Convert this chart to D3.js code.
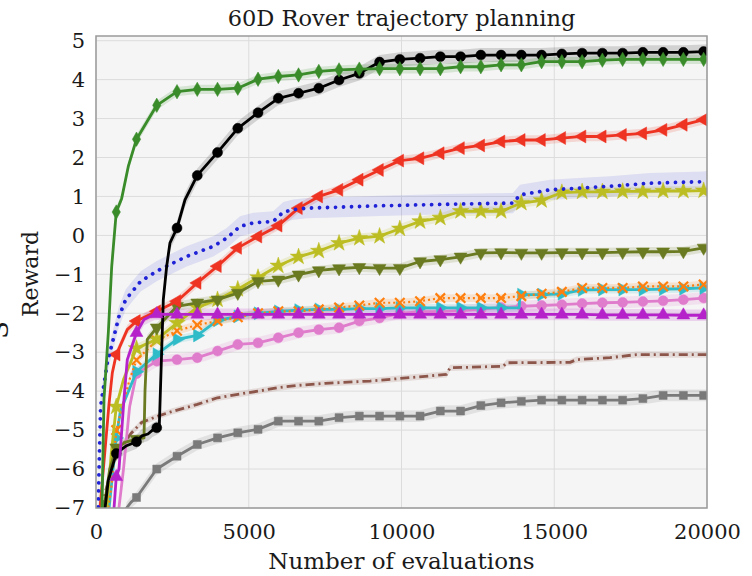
<!DOCTYPE html>
<html><head><meta charset="utf-8">
<script src="https://cdn.jsdelivr.net/npm/d3@7"></script>
<style>
body{margin:0;background:#fff;}
svg{display:block;}
text{font-family:"DejaVu Serif",serif;fill:#1a1a1a;}
</style>
</head><body>
<svg id="chart" width="752" height="576"></svg>
<script>
// ---------------- data ----------------
const title = "60D Rover trajectory planning";
const xLabel = "Number of evaluations";
const yLabel = "Reward";
const xTicks = [0, 5000, 10000, 15000, 20000];
const yTicks = [-7, -6, -5, -4, -3, -2, -1, 0, 1, 2, 3, 4, 5];
const markerEvals = [663, 1326, 1989, 2652, 3315, 3978, 4641, 5304, 5967, 6630,
  7293, 7956, 8619, 9282, 9945, 10608, 11271, 11934, 12597, 13260,
  13923, 14586, 15249, 15912, 16575, 17238, 17901, 18564, 19227, 19890];

const greenVals = [0.6, 2.47, 3.34, 3.69, 3.75, 3.75, 3.78, 4.01, 4.08, 4.12, 4.21, 4.25, 4.27, 4.28, 4.28,
  4.28, 4.28, 4.33, 4.33, 4.38, 4.38, 4.46, 4.46, 4.46, 4.5, 4.52, 4.52, 4.52, 4.52, 4.52];
const greenExtra = [[100, -9], [196, -7], [262, -4.2], [403, -2.5], [514, -0.8], [841, 0.95], [1057, 1.77], [20000, 4.53]];

const blackVals = [-5.6, -5.3, -4.94, 0.19, 1.54, 2.13, 2.75, 3.15, 3.52, 3.65, 3.78, 3.99, 4.16, 4.45, 4.52,
  4.55, 4.59, 4.59, 4.63, 4.63, 4.63, 4.63, 4.66, 4.68, 4.68, 4.68, 4.7, 4.7, 4.7, 4.72];
const blackExtra = [[150, -8], [400, -6.3], [1000, -5.4], [1500, -5.15], [1700, -5.1], [1850, -5.0], [2072, -4.9],
  [2100, -4.2], [2203, -1.65], [2314, -0.79], [2422, -0.19], [2913, 0.91], [20000, 4.73]];

const redVals = [-3.06, -2.2, -1.95, -1.69, -1.22, -0.79, -0.32, -0.03, 0.25, 0.7, 1.0, 1.17, 1.43, 1.68, 1.92,
  1.98, 2.11, 2.24, 2.31, 2.41, 2.45, 2.45, 2.5, 2.54, 2.54, 2.58, 2.62, 2.71, 2.84, 2.97];
const redExtra = [[60, -8], [130, -7], [425, -4.34], [534, -3.53], [1024, -2.42], [20000, 3.0]];

const blueVals = [];
const blueExtra = [[40, -8], [100, -6], [150, -4.4], [206, -4.1], [370, -3.27], [589, -2.59], [753, -2.08],
  [972, -1.65], [1188, -1.44], [1463, -1.18], [1987, -0.92], [2314, -0.79], [2969, -0.54], [3404, -0.41],
  [3839, -0.28], [4278, -0.07], [4713, 0.23], [5148, 0.32], [5803, 0.36], [6130, 0.6], [6458, 0.66],
  [6897, 0.7], [7767, 0.72], [9295, 0.76], [11500, 0.8], [13648, 0.83], [13877, 1.04], [14860, 1.17],
  [15940, 1.22], [16824, 1.26], [18133, 1.34], [19902, 1.38], [20000, 1.4]];

const yellowVals = [-4.4, -2.9, -2.67, -2.25, -1.85, -1.65, -1.38, -1.08, -0.78, -0.55, -0.4, -0.2, -0.07, -0.02, 0.17,
  0.36, 0.45, 0.62, 0.62, 0.62, 0.83, 0.9, 1.1, 1.12, 1.12, 1.13, 1.13, 1.14, 1.14, 1.15];
const yellowExtra = [[330, -7.2], [500, -5.6], [900, -3.7], [1130, -3.27], [20000, 1.16]];

const oliveVals = [-5.45, -5.23, -2.37, -1.82, -1.73, -1.65, -1.48, -1.18, -1.14, -1.01, -0.9, -0.85, -0.82, -0.84, -0.84,
  -0.67, -0.62, -0.55, -0.45, -0.44, -0.45, -0.45, -0.44, -0.44, -0.44, -0.43, -0.42, -0.42, -0.41, -0.32];
const oliveExtra = [[150, -8], [262, -7], [450, -6], [1000, -5.3], [1571, -5.2], [1604, -4.0], [1679, -2.67], [20000, -0.3]];

const orangeVals = [-5.0, -3.2, -2.7, -2.45, -2.3, -2.2, -2.1, -2.0, -1.95, -1.95, -1.9, -1.85, -1.8, -1.73, -1.73,
  -1.69, -1.61, -1.61, -1.61, -1.61, -1.56, -1.5, -1.45, -1.35, -1.35, -1.35, -1.31, -1.31, -1.31, -1.26];
const orangeExtra = [[200, -8], [500, -6.5], [1100, -3.7], [20000, -1.26]];

const cyanVals = [-5.2, -3.5, -3.05, -2.67, -2.57, -2.18, -2.08, -2.0, -1.95, -1.92, -1.9, -1.9, -1.88, -1.88, -1.86,
  -1.86, -1.86, -1.86, -1.86, -1.86, -1.52, -1.52, -1.5, -1.4, -1.39, -1.39, -1.39, -1.38, -1.37, -1.35];
const cyanExtra = [[300, -8], [800, -4.5], [13850, -1.86], [13880, -1.52], [20000, -1.35]];

const pinkVals = [null, -3.55, -3.23, -3.19, -3.14, -2.97, -2.8, -2.76, -2.63, -2.5, -2.42, -2.37, -2.2, -2.12, -2.0,
  -1.96, -1.96, -1.93, -1.9, -1.85, -1.82, -1.8, -1.78, -1.75, -1.73, -1.72, -1.7, -1.68, -1.65, -1.61];
const pinkExtra = [[600, -8], [900, -6], [1100, -4.4], [20000, -1.6]];

const magentaVals = [-6.2, -2.5, -2.02, -2.03, -2.03, -2.03, -2.03, -2.03, -2.03, -2.03, -2.03, -2.03, -2.03, -2.03, -2.03,
  -2.03, -2.03, -2.03, -2.03, -2.03, -2.03, -2.03, -2.03, -2.03, -2.04, -2.04, -2.04, -2.04, -2.05, -2.05];
const magentaExtra = [[500, -8], [590, -7], [753, -6.0], [916, -4.2], [1024, -3.19], [1572, -2.16], [1898, -2.03], [20000, -2.05]];

const brownVals = [];
const brownExtra = [[100, -8], [300, -6.6], [600, -5.8], [900, -5.35], [1150, -5.08], [1500, -4.8], [2100, -4.62],
  [2500, -4.52], [3315, -4.34], [3978, -4.17], [4641, -4.08], [5304, -4.0], [5967, -3.91], [6630, -3.85],
  [7500, -3.8], [8969, -3.74], [11480, -3.57], [11588, -3.4], [13334, -3.36], [13445, -3.27], [15517, -3.26],
  [15737, -3.19], [16824, -3.14], [17698, -3.06], [20000, -3.06]];

const greyVals = [null, -6.73, -6.0, -5.67, -5.37, -5.2, -5.07, -4.98, -4.77, -4.77, -4.77, -4.68, -4.64, -4.64, -4.64,
  -4.64, -4.51, -4.51, -4.37, -4.30, -4.26, -4.23, -4.23, -4.23, -4.23, -4.23, -4.19, -4.11, -4.11, -4.11];
const greyExtra = [[900, -8], [1000, -7], [1150, -6.85], [20000, -4.11]];

// band half-widths (uncertainty)
const bandHalf = {green: 0.12, black: 0.18, red: 0.12, blue: 0.26, yellow: 0.12, olive: 0.12, orange: 0.1,
  cyan: 0.1, pink: 0.15, magenta: 0.15, brown: 0.08, grey: 0.15};

// ---------------- styles (draw order) ----------------
const styles = [
  {key: "brown", vals: brownVals, extra: brownExtra, color: "#8c564b", marker: null, dash: "9,4,2,4", w: 2.8, op: 0.16},
  {key: "grey", vals: greyVals, extra: greyExtra, color: "#7a7a7a", marker: "square", w: 2.8, op: 0.16},
  {key: "pink", vals: pinkVals, extra: pinkExtra, color: "#e07ccc", marker: "circle", w: 2.8, op: 0.16},
  {key: "cyan", vals: cyanVals, extra: cyanExtra, color: "#2fbcc8", marker: "tright", w: 2.8, op: 0.16},
  {key: "orange", vals: orangeVals, extra: orangeExtra, color: "#ff7f0e", marker: "x", dash: "2,3", w: 2.2, op: 0.16},
  {key: "yellow", vals: yellowVals, extra: yellowExtra, color: "#bcbd22", marker: "star", w: 2.8, op: 0.16},
  {key: "olive", vals: oliveVals, extra: oliveExtra, color: "#6a7a20", marker: "tdown", w: 2.8, op: 0.16},
  {key: "red", vals: redVals, extra: redExtra, color: "#ee3322", marker: "tleft", w: 2.8, op: 0.16},
  {key: "blue", vals: blueVals, extra: blueExtra, color: "#1f22d6", marker: null, dash: "0.01,8", w: 3.8, cap: "round", op: 0.11},
  {key: "black", vals: blackVals, extra: blackExtra, color: "#000000", marker: "circle", w: 2.8, op: 0.14},
  {key: "magenta", vals: magentaVals, extra: magentaExtra, color: "#b522c9", marker: "tup", w: 2.8, op: 0.16},
  {key: "green", vals: greenVals, extra: greenExtra, color: "#3a8c2a", marker: "diamond", w: 2.8, op: 0.16}
];

// ---------------- chart ----------------
const svg = d3.select("#chart");
const L = 96, R = 707, T = 36, B = 508;
const x = d3.scaleLinear().domain([0, 20000]).range([L, R]);
const y = d3.scaleLinear().domain([-7, 5.12]).range([B, T]);

svg.append("rect").attr("width", 752).attr("height", 576).attr("fill", "#fff");
svg.append("rect").attr("x", L).attr("y", T).attr("width", R - L).attr("height", B - T).attr("fill", "#f5f5f5");

svg.append("defs").append("clipPath").attr("id", "clip")
  .append("rect").attr("x", L).attr("y", T).attr("width", R - L).attr("height", B - T);

// grid
const grid = svg.append("g");
grid.selectAll(".gx").data(xTicks).join("line")
  .attr("x1", d => x(d)).attr("x2", d => x(d)).attr("y1", T).attr("y2", B)
  .attr("stroke", "#dcdcdc").attr("stroke-width", 1);
grid.selectAll(".gy").data(yTicks).join("line")
  .attr("x1", L).attr("x2", R).attr("y1", d => y(d)).attr("y2", d => y(d))
  .attr("stroke", "#dcdcdc").attr("stroke-width", 1);

// axes (labels only, like the reference)
const xAxis = d3.axisBottom(x).tickValues(xTicks).tickSize(0).tickPadding(16).tickFormat(d3.format("d"));
const gx = svg.append("g").attr("transform", `translate(0,${B})`).call(xAxis);
gx.select(".domain").remove();
gx.selectAll("text").attr("font-size", 21).attr("font-family", "DejaVu Serif").attr("fill", "#1a1a1a");

const fmtY = v => (v < 0 ? "\u2212" + Math.abs(v) : String(v));
const yAxis = d3.axisLeft(y).tickValues(yTicks).tickSize(0).tickPadding(11).tickFormat(fmtY);
const gy = svg.append("g").attr("transform", `translate(${L},0)`).call(yAxis);
gy.select(".domain").remove();
gy.selectAll("text").attr("font-size", 21).attr("font-family", "DejaVu Serif").attr("fill", "#1a1a1a");

// series
function pointsOf(s) {
  const pts = s.extra.slice();
  s.vals.forEach((v, i) => { if (v != null) pts.push([markerEvals[i], v]); });
  pts.sort((a, b) => a[0] - b[0]);
  return pts;
}
const plot = svg.append("g").attr("clip-path", "url(#clip)");
const bands = plot.append("g");
const lines = plot.append("g");

styles.forEach(s => {
  const pts = pointsOf(s);
  const h = bandHalf[s.key];
  const area = d3.area().x(d => x(d[0])).y0(d => y(d[1] - h)).y1(d => y(d[1] + h));
  bands.append("path").attr("d", area(pts)).attr("fill", s.color).attr("opacity", s.op);
});

const xSym = {
  draw(ctx, size) {
    const r = Math.sqrt(size) / 2;
    ctx.moveTo(-r, -r); ctx.lineTo(r, r);
    ctx.moveTo(-r, r); ctx.lineTo(r, -r);
  }
};
const symDefs = {
  square: {type: d3.symbolSquare, size: 64, rot: 0},
  circle: {type: d3.symbolCircle, size: 78, rot: 0},
  tright: {type: d3.symbolTriangle, size: 72, rot: 90},
  tleft: {type: d3.symbolTriangle, size: 72, rot: -90},
  tdown: {type: d3.symbolTriangle, size: 72, rot: 180},
  tup: {type: d3.symbolTriangle, size: 72, rot: 0},
  star: {type: d3.symbolStar, size: 85, rot: 0},
  diamond: {type: d3.symbolDiamond, size: 60, rot: 0},
  x: {type: xSym, size: 90, rot: 0}
};

styles.forEach(s => {
  const pts = pointsOf(s);
  const line = d3.line().x(d => x(d[0])).y(d => y(d[1]));
  const g = lines.append("g");
  g.append("path").attr("d", line(pts)).attr("fill", "none")
    .attr("stroke", s.color).attr("stroke-width", s.w)
    .attr("stroke-dasharray", s.dash || null)
    .attr("stroke-linecap", s.cap || "butt")
    .attr("stroke-linejoin", "round");
  if (s.marker) {
    const sd = symDefs[s.marker];
    const mk = s.vals.map((v, i) => v == null ? null : [markerEvals[i], v]).filter(Boolean);
    const isStroke = s.marker === "x";
    g.selectAll("path.m").data(mk).join("path").attr("class", "m")
      .attr("d", d3.symbol().type(sd.type).size(sd.size)())
      .attr("transform", d => `translate(${x(d[0])},${y(d[1])}) rotate(${sd.rot})`)
      .attr("fill", isStroke ? "none" : s.color)
      .attr("stroke", s.color).attr("stroke-width", isStroke ? 2.2 : 0.5);
  }
});

// frame
svg.append("rect").attr("x", L).attr("y", T).attr("width", R - L).attr("height", B - T)
  .attr("fill", "none").attr("stroke", "#9a9a9a").attr("stroke-width", 1.5);

// texts
svg.append("text").attr("x", (L + R) / 2).attr("y", 26).attr("text-anchor", "middle")
  .attr("font-size", 22.5).text(title);
svg.append("text").attr("x", (L + R) / 2).attr("y", 569).attr("text-anchor", "middle")
  .attr("font-size", 23).text(xLabel);
svg.append("text").attr("transform", "translate(38,274) rotate(-90)").attr("text-anchor", "middle")
  .attr("font-size", 22).text(yLabel);
// partially visible glyph at the left edge (cropped neighbouring label in the reference)
svg.append("text").attr("transform", "translate(8,330) rotate(-90)").attr("text-anchor", "middle")
  .attr("font-size", 26).text("S");
</script>
</body></html>
